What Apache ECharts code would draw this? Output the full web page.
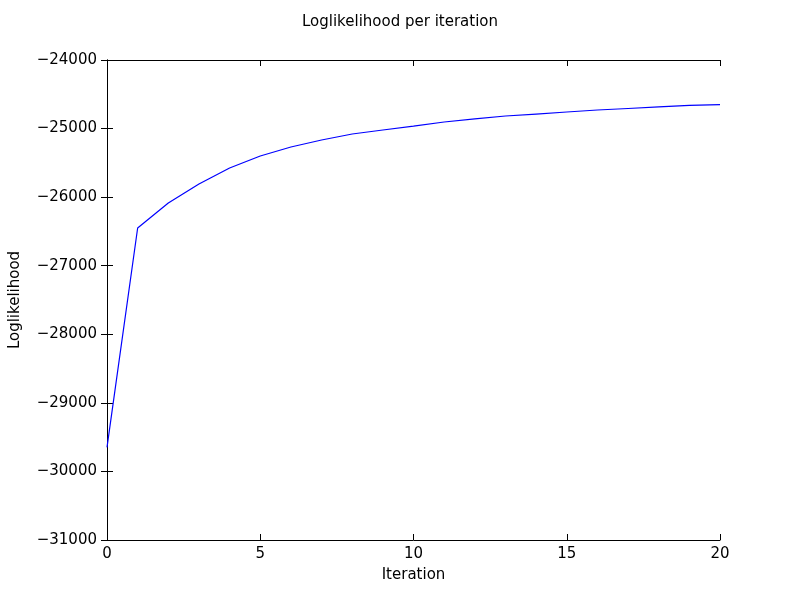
<!DOCTYPE html>
<html><head><meta charset="utf-8">
<script src="https://cdn.jsdelivr.net/npm/echarts@6/dist/echarts.min.js"></script>
<style>html,body{margin:0;padding:0;background:#fff}#c{width:800px;height:600px}</style>
</head><body><div id="c"></div>
<script>
const iterations = [0,1,2,3,4,5,6,7,8,9,10,11,12,13,14,15,16,17,18,19,20];
const loglik = [-29650,-26450,-26085,-25808,-25575,-25400,-25269,-25167,-25079,-25021,-24963,-24904,-24860,-24817,-24788,-24758,-24729,-24707,-24685,-24663,-24650];
const font = 'DejaVu Sans';
const fmt = v => String(v).replace('-', '\u2212');
const chart = echarts.init(document.getElementById('c'));
const axCommon = {
  axisLine:{show:true,lineStyle:{color:'#000',width:1}},
  axisTick:{show:true,inside:true,length:6,lineStyle:{color:'#000'}},
  splitLine:{show:false}
};
chart.setOption({
  animation:false,
  title:{text:'Loglikelihood per iteration',left:'center',top:10,textStyle:{fontFamily:font,fontSize:15,fontWeight:'normal',color:'#000'}},
  grid:{left:100,right:80,top:60,bottom:60},
  xAxis:[
    Object.assign({type:'value',min:0,max:20,interval:5,name:'Iteration',nameLocation:'middle',nameGap:28,
      nameTextStyle:{fontFamily:font,fontSize:15,color:'#000'},
      axisLabel:{fontFamily:font,fontSize:15,color:'#000',margin:7}},axCommon),
    Object.assign({type:'value',min:0,max:20,interval:5,position:'top',axisLabel:{show:false}},axCommon)
  ],
  yAxis:[
    Object.assign({type:'value',min:-31000,max:-24000,interval:1000,name:'Loglikelihood',nameLocation:'middle',nameGap:84,
      nameTextStyle:{fontFamily:font,fontSize:15,color:'#000'},
      axisLabel:{fontFamily:font,fontSize:15,color:'#000',margin:10,formatter:fmt}},axCommon),
    Object.assign({type:'value',min:-31000,max:-24000,interval:1000,position:'right',axisLabel:{show:false}},axCommon)
  ],
  series:[{type:'line',data:iterations.map((x,i)=>[x,loglik[i]]),showSymbol:false,
    lineStyle:{color:'#0000ff',width:1.2},itemStyle:{color:'#0000ff'}}]
});
</script></body></html>
